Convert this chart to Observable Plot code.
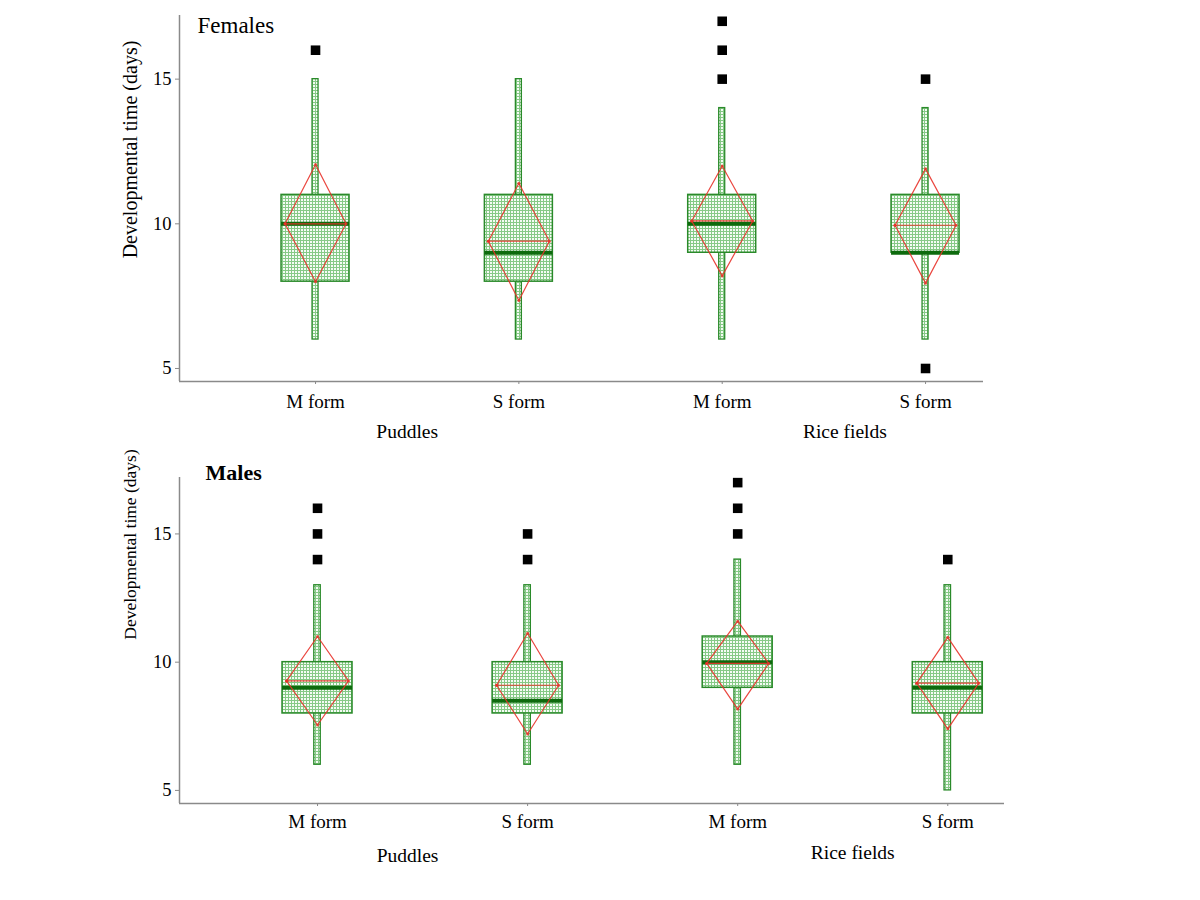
<!DOCTYPE html>
<html><head><meta charset="utf-8">
<script src="https://cdn.jsdelivr.net/npm/d3@7"></script>
<script src="https://cdn.jsdelivr.net/npm/@observablehq/plot@0.6"></script>
<style>
body{margin:0;background:#fff;}
#wrap{position:relative;width:1200px;height:900px;overflow:hidden;background:#fff;}
.panel{position:absolute;left:0;}
</style></head><body><div id="wrap"></div>
<script>
// ---- categories ----
const forms = ["M form","S form","M form","S form"];
const groupLabels = ["Puddles","Rice fields"];
const yTicks = [5,10,15];
const yLabel = "Developmental time (days)";

// ---- Females ----
const femMin    = [6, 6, 6, 6];
const femQ1     = [8, 8, 9, 9];
const femMedian = [10, 9, 10, 9];
const femQ3     = [11, 11, 11, 11];
const femMax    = [15, 15, 14, 14];
const femMean   = [10.0, 9.4, 10.1, 9.95];
const femMeanLo = [8.0, 7.35, 8.2, 7.95];
const femMeanHi = [12.05, 11.4, 12.0, 11.9];
const femOutCat = [0, 2, 2, 2, 3, 3];
const femOutVal = [16, 15, 16, 17, 15, 5];

// ---- Males ----
const malMin    = [6, 6, 6, 5];
const malQ1     = [8, 8, 9, 8];
const malMedian = [9, 8.5, 10, 9];
const malQ3     = [10, 10, 11, 10];
const malMax    = [13, 13, 14, 13];
const malMean   = [9.27, 9.1, 9.95, 9.18];
const malMeanLo = [7.55, 7.2, 8.17, 7.4];
const malMeanHi = [11.0, 11.13, 11.6, 10.97];
const malOutCat = [0, 0, 0, 1, 1, 2, 2, 2, 3];
const malOutVal = [14, 15, 16, 14, 15, 15, 16, 17, 14];

const GREEN = "#2a8a2a", DARK = "#0d6a0d", RED = "#e8322a", AXIS = "#8a8a8a";

function panel(o) {
  const rows = forms.map((f, i) => ({
    pos: i + 1, min: o.min[i], q1: o.q1[i], median: o.median[i], q3: o.q3[i],
    max: o.max[i], mean: o.mean[i], lo: o.lo[i], hi: o.hi[i]
  }));
  const outs = o.outCat.map((c, i) => ({pos: c + 1, v: o.outVal[i]}));
  const width = 1200;
  const pxPerUnit = (width - o.ml - o.mr) / (o.xdom[1] - o.xdom[0]);
  const u = px => px / pxPerUnit;
  const bh = u(o.boxPx / 2), wh = u(o.whPx / 2), dh = u(o.diaPx / 2);
  const diamond = rows.flatMap(d => [
    {id: d.pos, x: d.pos - dh, y: d.mean},
    {id: d.pos, x: d.pos, y: d.hi},
    {id: d.pos, x: d.pos + dh, y: d.mean},
    {id: d.pos, x: d.pos, y: d.lo},
    {id: d.pos, x: d.pos - dh, y: d.mean}
  ]);
  const fillUrl = `url(#${o.pid})`;
  const chart = Plot.plot({
    width, height: o.height,
    marginLeft: o.ml, marginRight: o.mr, marginTop: o.mt, marginBottom: o.mb,
    style: {fontFamily: "'Liberation Serif','Times New Roman',serif", fontSize: "16px", background: "transparent", color: "black", overflow: "visible"},
    x: {type: "linear", domain: o.xdom},
    y: {domain: o.ydom},
    marks: [
      Plot.ruleX([o.xdom[0]], {stroke: AXIS, strokeWidth: 1.5}),
      Plot.ruleY([o.ydom[0]], {stroke: AXIS, strokeWidth: 1.5}),
      Plot.axisY({ticks: yTicks, tickSize: 4, tickPadding: 4, fontSize: 18.5, label: null, stroke: AXIS}),
      Plot.axisX({ticks: [1, 2, 3, 4], tickFormat: d => forms[d - 1], tickSize: 3, tickPadding: o.xpad, fontSize: 19, label: null, stroke: AXIS}),
      Plot.text([yLabel], {frameAnchor: "left", rotate: -90, dx: o.ylDx, dy: o.ylDy, fontSize: o.ylSize, textAnchor: "middle", lineAnchor: "middle"}),
      Plot.text([o.title], {frameAnchor: "top-left", dx: o.tDx, dy: o.tDy, fontSize: o.tSize, fontWeight: o.bold ? "bold" : "normal", textAnchor: "start", lineAnchor: "bottom"}),
      Plot.text([groupLabels[0]], {x: 1.5, frameAnchor: "bottom", dx: o.g1dx, dy: o.gdy, fontSize: 19.5, lineAnchor: "bottom"}),
      Plot.text([groupLabels[1]], {x: 3.5, frameAnchor: "bottom", dx: o.g2dx, dy: o.gdy2, fontSize: 19.5, lineAnchor: "bottom"}),
      // whiskers
      Plot.rect(rows, {x1: d => d.pos - wh, x2: d => d.pos + wh, y1: "min", y2: "max", fill: fillUrl, stroke: GREEN, strokeWidth: 1.3}),
      // boxes
      Plot.rect(rows, {x1: d => d.pos - bh, x2: d => d.pos + bh, y1: "q1", y2: "q3", fill: fillUrl, stroke: GREEN, strokeWidth: 1.5}),
      // medians
      Plot.ruleY(rows, {y: "median", x1: d => d.pos - bh, x2: d => d.pos + bh, stroke: DARK, strokeWidth: 4}),
      // mean line
      Plot.ruleY(rows, {y: "mean", x1: d => d.pos - dh, x2: d => d.pos + dh, stroke: RED, strokeWidth: 1.2, strokeOpacity: 0.9}),
      // mean diamond
      Plot.line(diamond, {x: "x", y: "y", z: "id", stroke: RED, strokeWidth: 1.2, strokeOpacity: 0.9, curve: "linear"}),
      Plot.dot(diamond, {x: "x", y: "y", r: 1.5, fill: RED, fillOpacity: 0.8}),
      // outliers
      Plot.dot(outs, {x: "pos", y: "v", symbol: "square", r: 5.4, fill: "black"})
    ]
  });
  const svg = d3.select(chart);
  const defs = svg.insert("defs", ":first-child");
  const pat = defs.append("pattern").attr("id", o.pid).attr("width", 3).attr("height", 3).attr("patternUnits", "userSpaceOnUse");
  pat.append("rect").attr("width", 3).attr("height", 3).attr("fill", "#f4fbf4");
  pat.append("path").attr("d", "M0,0.5H3M0.5,0V3").attr("stroke", "#86c986").attr("stroke-width", 1);
  const div = document.createElement("div");
  div.className = "panel";
  div.style.top = o.top + "px";
  div.appendChild(chart);
  document.getElementById("wrap").appendChild(div);
}

panel({
  pid: "patF", title: "Females", bold: false, top: 0, height: 445,
  ml: 179, mr: 217, mt: 15, mb: 64, xdom: [0.331, 4.285], ydom: [4.55, 17.2],
  boxPx: 68, whPx: 6, diaPx: 61, xpad: 10,
  ylDx: -49, ylDy: -49, ylSize: 20, tDx: 18, tDy: 17, tSize: 23,
  g1dx: -10, g2dx: 21, gdy: 56, gdy2: 56,
  min: femMin, q1: femQ1, median: femMedian, q3: femQ3, max: femMax,
  mean: femMean, lo: femMeanLo, hi: femMeanHi, outCat: femOutCat, outVal: femOutVal
});
panel({
  pid: "patM", title: "Males", bold: true, top: 445, height: 455,
  ml: 179, mr: 196, mt: 32, mb: 97, xdom: [0.343, 4.27], ydom: [4.49, 17.2],
  boxPx: 70, whPx: 6.5, diaPx: 62, xpad: 8,
  ylDx: -49, ylDy: -96, ylSize: 17.5, tDx: 26, tDy: 2, tSize: 22,
  g1dx: -15, g2dx: 10, gdy: 58, gdy2: 55,
  min: malMin, q1: malQ1, median: malMedian, q3: malQ3, max: malMax,
  mean: malMean, lo: malMeanLo, hi: malMeanHi, outCat: malOutCat, outVal: malOutVal
});
</script></body></html>
